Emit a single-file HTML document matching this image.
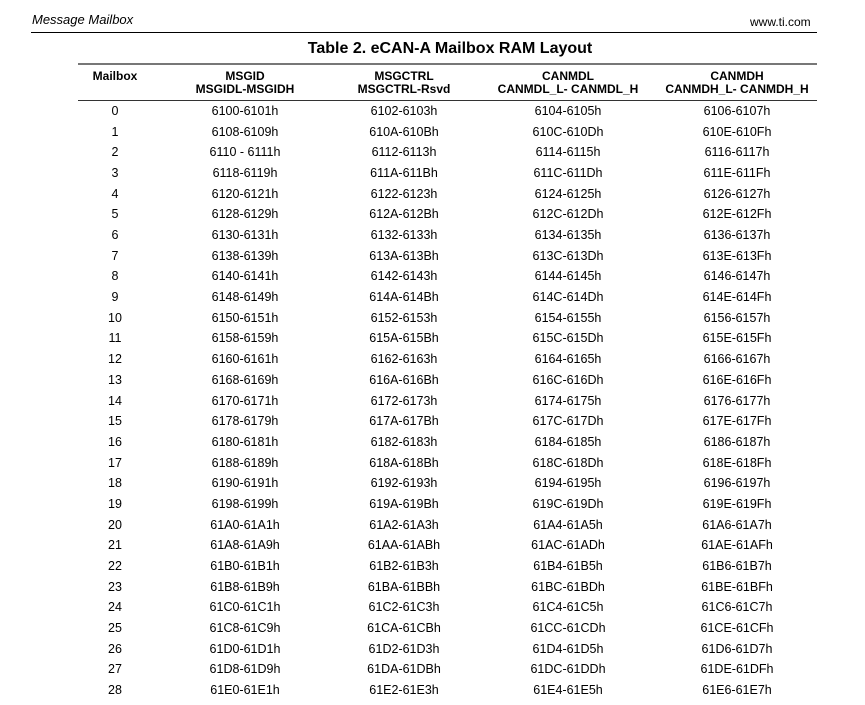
<!DOCTYPE html>
<html><head><meta charset="utf-8"><style>
body{margin:0;width:865px;height:705px;background:#fff;font-family:"Liberation Sans",Arial,sans-serif;color:#000;position:relative;overflow:hidden}
.a{position:absolute;white-space:nowrap}
.c{position:absolute;transform:translateX(-50%);white-space:nowrap;text-align:center}
.hd{font-weight:bold;font-size:12px;line-height:13px}
.r{font-size:12.5px}
</style></head><body>
<div class="a" style="left:32px;top:12px;font-size:13px;font-style:italic">Message Mailbox</div>
<div class="a" style="left:750px;top:15px;font-size:12px">www.ti.com</div>
<div class="a" style="left:31px;top:32px;width:786px;height:1px;background:#000"></div>
<div class="c" style="left:450px;top:40px;font-size:16px;font-weight:bold">Table 2. eCAN-A Mailbox RAM Layout</div>
<div class="a" style="left:78px;top:63px;width:739px;height:2px;background:#777"></div>
<div class="a" style="left:78px;top:100px;width:739px;height:1px;background:#333"></div>
<div class="c hd" style="left:115px;top:70px">Mailbox</div>
<div class="c hd" style="left:245px;top:70px">MSGID<br>MSGIDL-MSGIDH</div>
<div class="c hd" style="left:404px;top:70px">MSGCTRL<br>MSGCTRL-Rsvd</div>
<div class="c hd" style="left:568px;top:70px">CANMDL<br>CANMDL_L- CANMDL_H</div>
<div class="c hd" style="left:737px;top:70px">CANMDH<br>CANMDH_L- CANMDH_H</div>
<div id="rows"></div>
<script>
var s="";
function hx(n){return n.toString(16).toUpperCase();}
for(var i=0;i<29;i++){
var b=0x6100+i*8,y=104+i*20.68;
var c1=hx(b)+"-"+hx(b+1)+"h";if(i==2)c1="6110 - 6111h";
var cols=[[115,String(i)],[245,c1],[404,hx(b+2)+"-"+hx(b+3)+"h"],[568,hx(b+4)+"-"+hx(b+5)+"h"],[737,hx(b+6)+"-"+hx(b+7)+"h"]];
for(var j=0;j<5;j++)s+='<div class="c r" style="left:'+cols[j][0]+'px;top:'+y+'px">'+cols[j][1]+'</div>';
}
document.getElementById("rows").innerHTML=s;
</script>
</body></html>
